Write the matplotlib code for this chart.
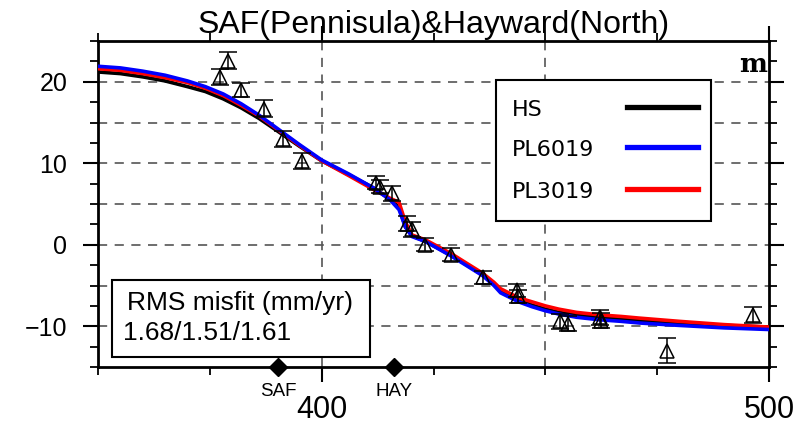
import matplotlib
matplotlib.use("Agg")
import matplotlib.pyplot as plt
from matplotlib.patches import Rectangle
from matplotlib.lines import Line2D
import numpy as np

plt.rcParams['font.family'] = ['Liberation Sans', 'DejaVu Sans']

# ---- data ----
title = "SAF(Pennisula)&Hayward(North)"
obs_x = [377.3, 379.1, 382.0, 387.1, 391.4, 395.6, 412.2, 413.1, 415.8, 419.1, 420.2,
         423.2, 429.0, 436.1, 443.6, 443.8, 453.2, 455.0, 462.2, 462.4, 477.1, 496.5]
obs_y = [20.6, 22.6, 19.0, 16.7, 13.0, 10.3, 7.6, 7.1, 6.3, 2.6, 1.9,
         0.0, -1.2, -4.0, -5.6, -6.3, -9.4, -9.7, -8.9, -9.3, -13.0, -8.6]
obs_err = [1.0, 1.0, 0.9, 1.0, 1.0, 1.0, 0.8, 0.8, 0.9, 0.9, 0.9,
           0.8, 0.8, 0.8, 0.8, 0.8, 0.9, 0.9, 0.9, 0.9, 1.5, 1.0]

model_x = [350, 355, 360, 365, 370, 374, 378, 382, 386, 390, 395, 400, 406, 411.5, 415.3,
           417.3, 418.7, 420.2, 423.2, 429, 436, 438.5, 440, 444, 447, 450, 453, 457, 462,
           467, 471, 480, 490, 500]
hs = [21.2, 21.0, 20.6, 20.1, 19.4, 18.8, 17.9, 16.8, 15.5, 14.0, 12.1, 10.3, 8.6, 7.0, 5.6,
      4.6, 2.2, 1.1, 0.4, -1.3, -3.7, -4.9, -5.6, -6.8, -7.4, -7.9, -8.3, -8.6, -8.9,
      -9.1, -9.3, -9.6, -9.9, -10.1]
pl6019 = [21.9, 21.7, 21.3, 20.8, 20.1, 19.4, 18.5, 17.3, 15.9, 14.3, 12.3, 10.4, 8.7, 7.0, 5.5,
          4.3, 2.2, 1.0, 0.4, -1.4, -3.8, -5.0, -5.9, -7.0, -7.6, -8.1, -8.5, -8.9, -9.2,
          -9.4, -9.6, -9.9, -10.2, -10.4]
pl3019 = [21.6, 21.4, 21.0, 20.5, 19.9, 19.2, 18.3, 17.1, 15.8, 14.2, 12.2, 10.3, 8.5, 6.8, 5.7,
          5.2, 2.8, 1.2, 0.6, -1.1, -3.5, -4.6, -5.4, -6.5, -7.0, -7.5, -7.9, -8.3, -8.6,
          -8.8, -9.0, -9.4, -9.8, -10.1]
model_names = ["HS", "PL6019", "PL3019"]
model_colors = ["black", "#0000ff", "#ff0000"]

fault_names = ["SAF", "HAY"]
fault_x = [390.3, 416.2]

rms_lines = ["RMS misfit (mm/yr)", "1.68/1.51/1.61"]
x_ticks = [400, 500]
x_ticklabels = ["400", "500"]
y_ticks = [-10, 0, 10, 20]

# ---- figure ----
W, H = 799, 426
fig = plt.figure(figsize=(W / 100, H / 100), dpi=100)
L, R, T, B = 98, 769, 41, 367
ax = fig.add_axes([L / W, (H - B) / H, (R - L) / W, (B - T) / H])
ax.set_xlim(350, 500)
ax.set_ylim(-15, 25)

def axc(px, py):
    return ((px - L) / (R - L), (B - py) / (B - T))

# grid
for gy in [-10, -5, 0, 5, 10, 15, 20]:
    ax.axhline(gy, color='#555555', lw=1.2, ls=(0, (5.5, 4.5)), zorder=1)
for gx in [400, 450]:
    ax.axvline(gx, color='#555555', lw=1.2, ls=(0, (5.5, 4.5)), zorder=1)

# models
for ys, c, z in [(hs, model_colors[0], 3), (pl3019, model_colors[2], 4), (pl6019, model_colors[1], 5)]:
    ax.plot(model_x, ys, color=c, lw=2.6, zorder=z, solid_capstyle='round',
            solid_joinstyle='round')

# observations
ax.errorbar(obs_x, obs_y, yerr=obs_err, fmt='^', ms=10, mfc='none', mec='black', mew=1.1,
            ecolor='black', elinewidth=1.1, capsize=6.5, capthick=1.1, zorder=6)

# fault markers
ax.plot(fault_x, [-15] * len(fault_x), 'D', color='black', ms=9.5, clip_on=False, zorder=10)
for fx, fn in zip(fault_x, fault_names):
    ax.annotate(fn, (fx, -15), xytext=(0, -18), textcoords='offset points',
                ha='center', va='center', fontsize=13.5)

# ticks
ax.set_xticks(x_ticks)
ax.set_xticklabels(x_ticklabels)
ax.set_xticks(np.arange(350, 501, 25), minor=True)
ax.set_yticks(y_ticks)
ax.set_yticklabels([str(v).replace('-', '\u2212') for v in y_ticks])
ax.set_yticks(np.arange(-15, 25.1, 2.5), minor=True)
ax.tick_params(which='major', direction='out', length=11, width=1.5,
               top=True, right=True)
ax.tick_params(which='minor', direction='out', length=6, width=1.3, top=True, right=True)
ax.tick_params(axis='x', which='major', pad=9, labelsize=22)
ax.tick_params(axis='y', which='major', pad=11, labelsize=18)
for s in ax.spines.values():
    s.set_linewidth(2.0)

ax.set_title(title, fontsize=23, pad=6)

# m label
ax.text(*axc(767, 64), "m", transform=ax.transAxes, ha='right', va='center',
        fontsize=19, family='DejaVu Serif', fontweight='bold')

# legend box (manual)
x0, y0 = axc(496, 221)
x1, y1 = axc(711, 80)
ax.add_patch(Rectangle((x0, y0), x1 - x0, y1 - y0, transform=ax.transAxes, fill=True,
                       facecolor='white', edgecolor='black', lw=1.5, zorder=20))
for name, c, py in zip(model_names, model_colors, [110, 150, 192]):
    tx, ty = axc(512, py)
    ax.text(tx, ty, name, transform=ax.transAxes, ha='left', va='center', fontsize=16,
            family='DejaVu Sans', zorder=21)
    lx0, ly = axc(627, py - 3)
    lx1, _ = axc(698, py - 3)
    ax.add_line(Line2D([lx0, lx1], [ly, ly], transform=ax.transAxes, color=c, lw=3.8, zorder=21))

# RMS box
x0, y0 = axc(112, 357)
x1, y1 = axc(370, 280)
ax.add_patch(Rectangle((x0, y0), x1 - x0, y1 - y0, transform=ax.transAxes, fill=True,
                       facecolor='white', edgecolor='black', lw=1.5, zorder=20))
tx, ty = axc(127, 303)
ax.text(tx, ty, rms_lines[0], transform=ax.transAxes, ha='left', va='center', fontsize=19, zorder=21)
tx, ty = axc(123, 333)
ax.text(tx, ty, rms_lines[1], transform=ax.transAxes, ha='left', va='center', fontsize=19, zorder=21)

fig.savefig("out.png", dpi=100)
